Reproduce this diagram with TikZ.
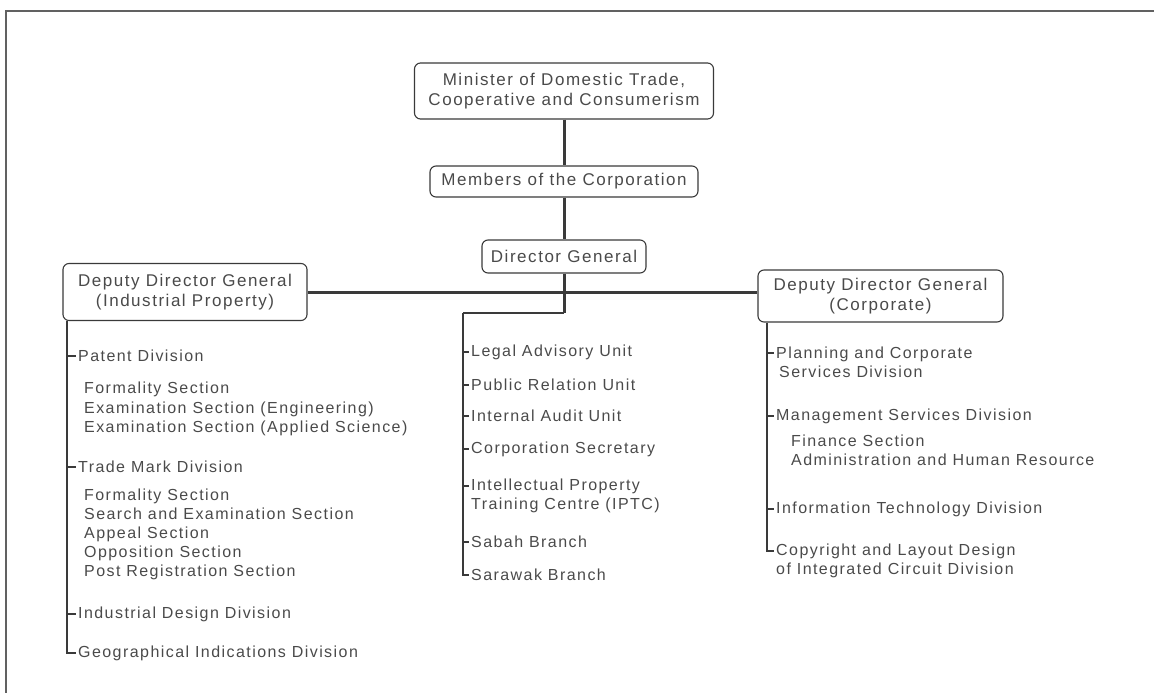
\documentclass[tikz,border=0pt]{standalone}
\usepackage{fontspec}
\setmainfont{Liberation Sans}
\newfontfamily\orgfont[LetterSpace=9]{Liberation Sans}
\newcommand\orgboxfont{\orgfont\fontsize{17}{20}\selectfont}
\newcommand\orgitemfont{\orgfont\fontsize{16}{19}\selectfont}
\definecolor{inkc}{HTML}{4A4A4A}
\definecolor{linec}{HTML}{3A3A3A}
\begin{document}
\begin{tikzpicture}[x=1pt,y=-1pt,
  orgbox/.style={draw=linec,line width=1.1pt,rounded corners=6pt,fill=white,
    inner sep=0pt,align=center,font=\orgboxfont,text=inkc},
  item/.style={anchor=west,inner sep=0pt,align=left,font=\orgitemfont,text=inkc},
  sublist/.style={item,font=\orgitemfont\fontsize{16}{19.5}\selectfont},
  trunk/.style={draw=linec,line width=3pt},
  twig/.style={draw=linec,line width=1.2pt},
]
\useasboundingbox (0,0) rectangle (1154,693);
% frame (top and left edges)
\draw[draw=linec!80,line width=1.6pt] (6,693) -- (6,11) -- (1154,11);

% boxes
\node[orgbox,minimum width=299,minimum height=56] (minister) at (564,91)
  {Minister of Domestic Trade,\\Cooperative and Consumerism};
\node[orgbox,minimum width=268,minimum height=31] (members) at (564,181.5)
  {Members of the Corporation};
\node[orgbox,minimum width=164,minimum height=33] (dg) at (564,256.5)
  {Director General};
\node[orgbox,minimum width=244,minimum height=57] (ddgl) at (185,292)
  {Deputy Director General\\(Industrial Property)};
\node[orgbox,minimum width=245,minimum height=52] (ddgr) at (880.5,296)
  {Deputy Director General\\(Corporate)};

% main trunk
\draw[trunk] (minister.south) -- (members.north);
\draw[trunk] (members.south) -- (dg.north);
\coordinate (mbend) at (564,313);
\coordinate (mx) at (463,313);
\draw[trunk] (dg.south) -- (mbend);
\draw[trunk] (ddgl.east) -- (ddgl.east -| ddgr.west);
\draw[draw=linec,line width=1.8pt] (mbend) -- (mx);

% left column
\coordinate (lx) at (67,0);
\node[item] (patent) at (78,356) {Patent Division};
\node[sublist] (patsub) at (84,409) {Formality Section\\Examination Section (Engineering)\\Examination Section (Applied Science)};
\node[item] (trademark) at (78,467) {Trade Mark Division};
\node[sublist,font=\orgitemfont] (tmsub) at (84,534) {Formality Section\\Search and Examination Section\\Appeal Section\\Opposition Section\\Post Registration Section};
\node[item] (indus) at (78,614) {Industrial Design Division};
\node[item] (geo) at (78,653) {Geographical Indications Division};
\draw[twig] (lx |- ddgl.south) -- (lx |- geo.west) -- ([xshift=-2pt]geo.west);
\foreach \n in {patent,trademark,indus}
  \draw[twig] (lx |- \n.west) -- ([xshift=-2pt]\n.west);

% middle column
\node[item] (legal) at (471,352) {Legal Advisory Unit};
\node[item] (public) at (471,385) {Public Relation Unit};
\node[item] (audit) at (471,416) {Internal Audit Unit};
\node[item] (corp) at (471,449) {Corporation Secretary};
\node[item] (iptc) at (471,495.5) {Intellectual Property\\Training Centre (IPTC)};
\node[item] (sabah) at (471,542) {Sabah Branch};
\node[item] (sarawak) at (471,575) {Sarawak Branch};
\coordinate (iptcA) at ([xshift=-2pt,yshift=9.5pt]iptc.west);
\draw[twig] (mx) -- (mx |- sarawak.west) -- ([xshift=-2pt]sarawak.west);
\foreach \n in {legal,public,audit,corp,sabah}
  \draw[twig] (mx |- \n.west) -- ([xshift=-2pt]\n.west);
\draw[twig] (mx |- iptcA) -- (iptcA);

% right column
\coordinate (rx) at (767,0);
\node[item] (planning) at (776,362.5) {Planning and Corporate\\\hspace*{3pt}Services Division};
\node[item] (mgmt) at (776,416) {Management Services Division};
\node[item] (finsub) at (791,450.5) {Finance Section\\Administration and Human Resource};
\node[item] (itdiv) at (776,509) {Information Technology Division};
\node[item] (copy) at (776,560.5) {Copyright and Layout Design\\of Integrated Circuit Division};
\coordinate (planA) at ([xshift=-2pt,yshift=9.5pt]planning.west);
\coordinate (copyA) at ([xshift=-2pt,yshift=9.5pt]copy.west);
\draw[twig] (rx |- ddgr.south) -- (rx |- copyA) -- (copyA);
\draw[twig] (rx |- planA) -- (planA);
\foreach \n in {mgmt,itdiv}
  \draw[twig] (rx |- \n.west) -- ([xshift=-2pt]\n.west);
\end{tikzpicture}
\end{document}
